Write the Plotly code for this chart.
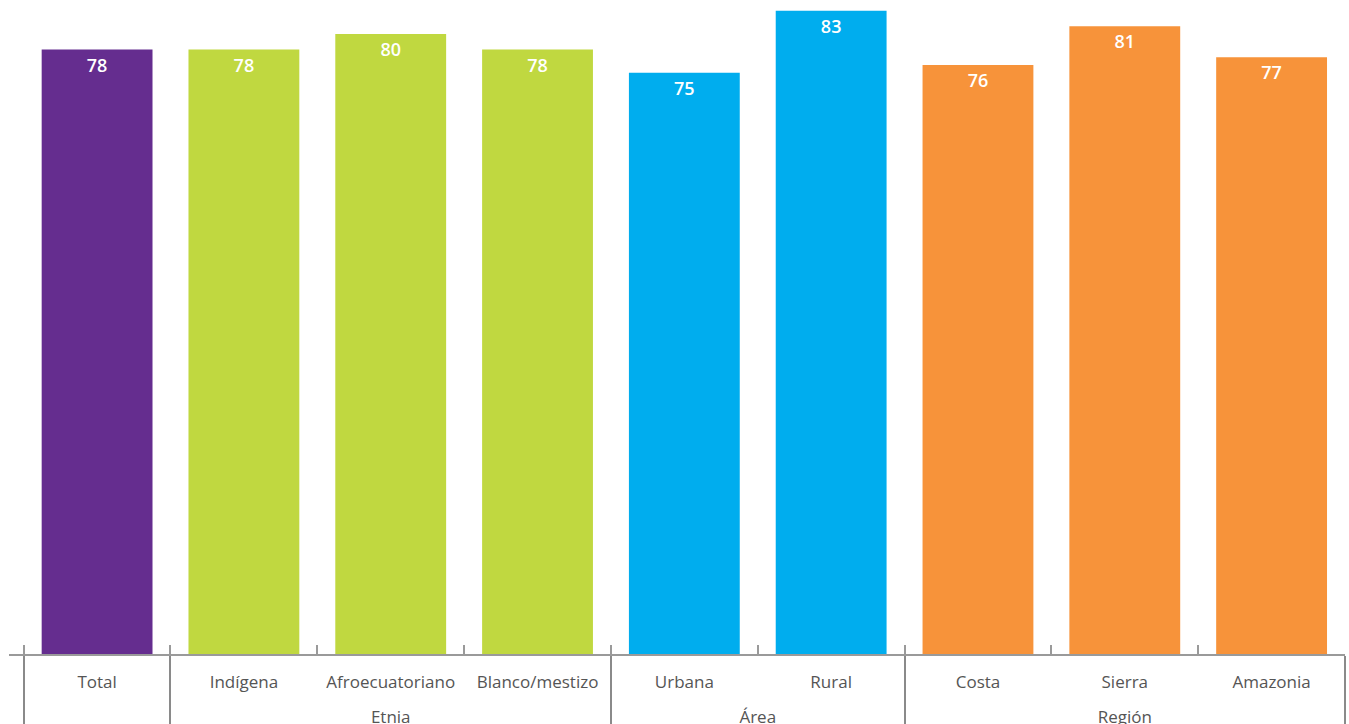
import plotly.graph_objects as go

grupos = ["", "Etnia", "Etnia", "Etnia", "Área", "Área", "Región", "Región", "Región"]
categorias = ["Total", "Indígena", "Afroecuatoriano", "Blanco/mestizo",
              "Urbana", "Rural", "Costa", "Sierra", "Amazonia"]
valores = [78, 78, 80, 78, 75, 83, 76, 81, 77]
colores = ["#652D8F", "#C0D840", "#C0D840", "#C0D840",
           "#00ADEE", "#00ADEE", "#F7933A", "#F7933A", "#F7933A"]

# an empty second line under each category name leaves room above the group row
etiquetas = [c + "<br>&nbsp;" for c in categorias]

fig = go.Figure(
    go.Bar(
        x=[grupos, etiquetas],
        y=valores,
        marker=dict(color=colores, line=dict(width=0)),
        text=[str(v) for v in valores],
        textposition="inside",
        insidetextanchor="end",
        textfont=dict(color="white", size=18, family="Open Sans SemiBold, Open Sans, sans-serif"),
        cliponaxis=False,
    )
)

fig.update_layout(
    width=1349,
    height=724,
    margin=dict(l=9, r=4, t=0, b=70, autoexpand=False),
    paper_bgcolor="white",
    plot_bgcolor="white",
    bargap=0.245,
    showlegend=False,
    font=dict(family="Open Sans, sans-serif", size=17, color="#555555"),
)

fig.update_xaxes(
    type="multicategory",
    range=[-0.6, 8.5],
    automargin=False,
    tickangle=0,
    showline=True,
    linecolor="#9a9a9a",
    linewidth=2,
    ticks="inside",
    tickcolor="#9a9a9a",
    ticklen=9,
    tickwidth=2,
    ticklabelstandoff=12,
    showdividers=True,
    dividercolor="#8a8a8a",
    dividerwidth=2,
    tickfont=dict(size=17, color="#555555"),
)

fig.update_yaxes(
    range=[0, 84.4],
    visible=False,
    showgrid=False,
)

fig.write_html("out.html")
